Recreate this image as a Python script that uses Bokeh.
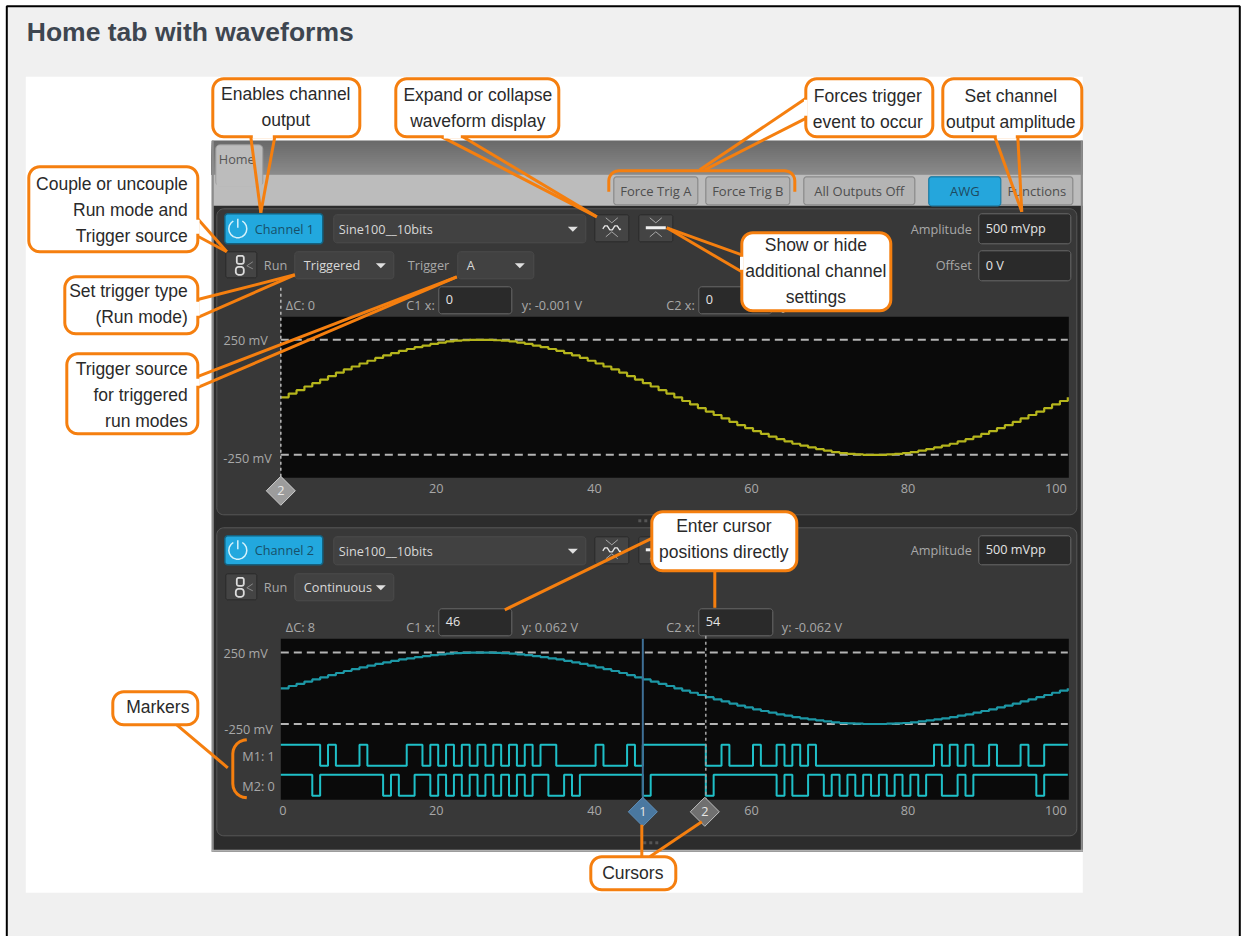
import math
from bokeh.plotting import figure
from bokeh.models import Range1d, LinearAxis, FixedTicker
from bokeh.core.properties import value
from bokeh.embed import file_html
from bokeh.resources import INLINE

# ---- data ----
samples = list(range(101))
wave_mv = [0, 16, 31, 47, 62, 77, 92, 107, 121, 134, 147, 159, 171, 182, 192, 202, 210, 218, 225, 232,
           238, 243, 246, 248, 250, 250, 250, 248, 246, 243, 238, 232, 225, 218, 210, 202, 192, 182, 171, 159,
           147, 134, 121, 107, 92, 77, 62, 47, 31, 16, 0, -16, -31, -47, -62, -77, -92, -107, -121, -134,
           -147, -159, -171, -182, -192, -202, -210, -218, -225, -232, -238, -243, -246, -248, -250, -250, -250, -248, -246, -243,
           -238, -232, -225, -218, -210, -202, -192, -182, -171, -159, -147, -134, -121, -107, -92, -77, -62, -47, -31, -16, 0]
m1_times = [0, 5, 6, 7, 10, 11, 16, 18, 19, 20, 21, 22, 23, 24, 25, 26, 27, 28, 29, 30, 31, 32, 33, 35, 40, 41,
            44, 45, 46, 54, 56, 57, 60, 61, 63, 64, 65, 66, 67, 68, 83, 84, 85, 86, 87, 88, 90, 91, 94, 95, 97, 100]
m1_levels = [1, 0, 1, 0, 1, 0, 1, 0, 1, 0, 1, 0, 1, 0, 1, 0, 1, 0, 1, 0, 1, 0, 1, 0, 1, 0,
             1, 0, 1, 0, 1, 0, 1, 0, 1, 0, 1, 0, 1, 0, 1, 0, 1, 0, 1, 0, 1, 0, 1, 0, 1, 1]
m2_times = [0, 4, 5, 13, 14, 15, 17, 19, 20, 21, 22, 23, 24, 25, 26, 27, 28, 29, 30, 31, 32, 34, 36, 37, 38, 46, 47,
            54, 55, 63, 64, 65, 67, 69, 70, 71, 72, 73, 74, 75, 76, 77, 78, 79, 80, 81, 82, 84, 86, 87, 88, 96, 97, 100]
m2_levels = [1, 0, 1, 0, 1, 0, 1, 0, 1, 0, 1, 0, 1, 0, 1, 0, 1, 0, 1, 0, 1, 0, 1, 0, 1, 0, 1,
             0, 1, 0, 1, 0, 1, 0, 1, 0, 1, 0, 1, 0, 1, 0, 1, 0, 1, 0, 1, 0, 1, 0, 1, 0, 1, 1]
level_lines_mv = [250, -250]
cursor_ch1 = [0, 0]
cursor_ch2 = [46, 54]
ticks_ch1 = [19.75, 39.85, 59.8, 79.7, 98.5]
labels_ch1 = {19.75: "20", 39.85: "40", 59.8: "60", 79.7: "80", 98.5: "100"}
ticks_ch2 = [0.25, 19.75, 39.85, 59.8, 79.7, 98.5]
labels_ch2 = {0.25: "0", 19.75: "20", 39.85: "40", 59.8: "60", 79.7: "80", 98.5: "100"}

# ---- layout (pixels of the page) ----
W, H = 1243, 936
OFF = 0.7
ORANGE = "#f57f0f"
UI = "Open Sans"
UI_SIZE = 12.7
GREY = "#a8a8a8"
CALL = "Liberation Sans"
CALL_SIZE = 17.5

p = figure(width=W, height=H, x_range=Range1d(OFF, W + OFF), y_range=Range1d(H + OFF, OFF),
           x_axis_type=None, y_axis_type=None, toolbar_location=None,
           output_backend="svg", min_border=0, outline_line_color=None,
           background_fill_color="white", border_fill_color="white")
p.grid.visible = False


def px_range(a, b):
    return Range1d(start=(a - H - OFF) / b, end=(a - OFF) / b)


x0_px, x_scale = 281.0, 7.87
p.extra_x_ranges["wave"] = Range1d(start=(OFF - x0_px) / x_scale, end=(W + OFF - x0_px) / x_scale)
p.extra_y_ranges["ch1"] = px_range(397.5, 57.5 / 250)
p.extra_y_ranges["ch2"] = px_range(688.5, 35.7 / 250)
p.extra_y_ranges["m1"] = px_range(766, 21)
p.extra_y_ranges["m2"] = px_range(796, 21)


def box(x0, y0, x1, y1, fill, line=None, lw=1):
    p.quad(left=[x0], right=[x1], top=[y0], bottom=[y1], fill_color=fill,
           line_color=line, line_width=lw)


def rr_pts(x0, y0, x1, y1, r):
    xs, ys = [], []
    for cx, cy, a0 in ((x1 - r, y0 + r, -90), (x1 - r, y1 - r, 0), (x0 + r, y1 - r, 90), (x0 + r, y0 + r, 180)):
        for k in range(9):
            a = math.radians(a0 + k * 90 / 8)
            xs.append(cx + r * math.cos(a))
            ys.append(cy + r * math.sin(a))
    return xs, ys


def rrect(x0, y0, x1, y1, r, fill, line=None, lw=1):
    xs, ys = rr_pts(x0, y0, x1, y1, r)
    p.patch(xs, ys, fill_color=fill, line_color=line, line_width=lw)


def seg(xs, ys, color, lw=1.0, dash="solid", cap="butt", **kw):
    p.line(xs, ys, line_color=color, line_width=lw, line_dash=dash, line_cap=cap, **kw)


def txt(x, y, s, size=UI_SIZE, color="#b8b8b8", align="left", font=UI, style="normal"):
    p.text(x=[x], y=[y], text=[s], text_font=value(font), text_font_size=f"{size}px",
           text_color=color, text_align=align, text_baseline="middle", text_font_style=style)


def tri(cx, cy, color="#e0e0e0"):
    p.patch([cx - 5, cx + 5, cx], [cy - 2, cy - 2, cy + 3], fill_color=color, line_color=None)


def combo(x0, y0, x1, y1, label, ax):
    rrect(x0, y0, x1, y1, 3, "#414141", "#4c4c4c", 1)
    txt(x0 + 9 if label != "Sine100__10bits" else x0 + 5, (y0 + y1) / 2, label, color="#d8d8d8")
    tri(ax, (y0 + y1) / 2)


def field(x0, y0, x1, y1, label):
    rrect(x0, y0, x1, y1, 3, "#2a2a2a", "#6a6a6a", 1)
    txt(x0 + 7, (y0 + y1) / 2 - 1, label, color="#e4e4e4")


def power_button(y0, y1, label):
    rrect(225, y0, 323, y1, 3, "#22a8de", "#14617f", 1.5)
    cy = (y0 + y1) / 2
    a = [math.radians(-60 + k * 20) for k in range(16)]
    seg([238 + 9 * math.cos(t) for t in a], [cy + 9 * math.sin(t) for t in a], "#d6f2fb", 1.5)
    seg([238, 238], [cy - 10, cy - 1], "#d6f2fb", 1.5)
    txt(255, cy, label, color="#17506a")


def chain(y0):
    rrect(226, y0, 257, y0 + 26, 2, "#444444", "#2a2a2a", 1)
    rrect(237, y0 + 4, 244, y0 + 12, 2, None, "#dcdcdc", 1.8)
    rrect(236, y0 + 15, 244, y0 + 23, 3, None, "#dcdcdc", 1.8)
    seg([253, 247, 253], [y0 + 10, y0 + 14, y0 + 17], "#8a8a8a", 1)


def chevrons(cx, y0):
    seg([cx - 6, cx, cx + 6], [y0 + 3, y0 + 8, y0 + 3], "#a8a8a8", 1)
    seg([cx - 6, cx, cx + 6], [y0 + 22, y0 + 17, y0 + 22], "#a8a8a8", 1)


def wave_btn(x0, y0):
    rrect(x0, y0, x0 + 34, y0 + 27, 2, "#444444", "#2a2a2a", 1)
    cx = x0 + 17
    chevrons(cx, y0)
    seg([cx - 9, cx - 7, cx - 4.5, cx - 2, cx + 0.5, cx + 3, cx + 5.5, cx + 8, cx + 9],
        [y0 + 14, y0 + 11, y0 + 11, y0 + 15, y0 + 15, y0 + 11, y0 + 11, y0 + 15, y0 + 14], "#e8e8e8", 1.3)


def bar_btn(x0, y0):
    rrect(x0, y0, x0 + 34, y0 + 27, 2, "#444444", "#2a2a2a", 1)
    cx = x0 + 17
    chevrons(cx, y0)
    box(cx - 10, y0 + 11.5, cx + 10, y0 + 14.5, "#f0f0f0")


def diamond(cx, cy, fill, edge, label):
    p.patch([cx - 14.5, cx, cx + 14.5, cx], [cy, cy - 14.5, cy, cy + 14.5], fill_color=fill,
            line_color=edge, line_width=1)
    txt(cx, cy, label, UI_SIZE, "#e8e8e8", "center")


def callout(x0, y0, x1, y1, lines, cx=None, right=None, pointers=(), gaps=()):
    for (ax, ay, bx, by) in pointers:
        seg([ax, bx], [ay, by], ORANGE, 3)
    rrect(x0, y0, x1, y1, 11, "white", ORANGE, 3)
    for (ax, ay, bx, by) in gaps:
        seg([ax, bx], [ay, by], "white", 3.6)
    for (ly, s) in lines:
        if right is not None:
            txt(right, ly, s, CALL_SIZE, "#2a2a2a", "right", CALL)
        else:
            txt(cx, ly, s, CALL_SIZE, "#2a2a2a", "center", CALL)


# ---- page frame ----
box(7, 6.5, 1240, 938, "#f0f0f0", "black", 2)
txt(27, 32, "Home tab with waveforms", 26.5, "#3e4650", "left", "Liberation Sans", "bold")
box(26, 77, 1083, 893, "white")

# ---- application window ----
box(212, 141, 1083, 852, "#2c2c2c")
for i in range(17):
    g = 0x6a + i * 2
    box(212, 141 + 2 * i, 1083, 175, "#%02x%02x%02x" % (g, g, g))
box(212, 175, 1083, 206, "#bcbcbc")
box(212, 141, 214, 852, "#8c8c8c")
box(1081, 141, 1083, 852, "#8c8c8c")
box(212, 850, 1083, 852, "#b0b0b0")
rrect(216, 145, 263, 186, 4, "#bcbcbc", "#9a9a9a", 1)
box(217, 175, 262, 187, "#bcbcbc")
txt(219, 159, "Home", UI_SIZE, "#555555")

for x0, x1, s in ((614, 698, "Force Trig A"), (706, 790, "Force Trig B"), (804, 915, "All Outputs Off")):
    rrect(x0, 177, x1, 205, 3, "#b4b4b4", "#8a8a8a", 1.2)
    txt((x0 + x1) / 2, 191, s, 13, "#4e4e4e", "center")
rrect(929, 177, 1073, 205, 3, "#b4b4b4", "#8a8a8a", 1.2)
rrect(929, 177, 1001, 206, 3, "#25a6dc", "#1a7ea8", 1.2)
txt(965, 191, "AWG", 13, "#1e4a60", "center")
txt(1037, 191, "Functions", 13, "#4e4e4e", "center")

# channel panels
rrect(217, 209, 1077, 515, 7, "#383838", "#585858", 1)
rrect(217, 528, 1077, 836, 7, "#383838", "#585858", 1)
for x in (640, 646, 652):
    box(x - 1.5, 519.5, x + 1.5, 522.5, "#555555")
    box(x + 5 - 1.5, 841.5, x + 5 + 1.5, 844.5, "#555555")

# channel 1 controls
power_button(214, 244, "Channel 1")
combo(334, 215, 586, 243, "Sine100__10bits", 573)
wave_btn(595, 215)
bar_btn(639, 215)
txt(972, 229, "Amplitude", UI_SIZE, GREY, "right")
field(979, 214, 1071, 244, "500 mVpp")
txt(972, 265, "Offset", UI_SIZE, GREY, "right")
field(979, 251, 1071, 281, "0 V")
chain(252)
txt(264, 265, "Run", UI_SIZE, GREY)
combo(295, 252, 394, 279, "Triggered", 381)
txt(408, 265, "Trigger", UI_SIZE, GREY)
combo(458, 252, 534, 279, "A", 520)
txt(286, 305, "ΔC: 0", UI_SIZE, GREY)
txt(435, 305, "C1 x:", UI_SIZE, GREY, "right")
field(439, 287, 512, 314, "0")
txt(522, 305, "y: -0.001 V", UI_SIZE, GREY)
txt(695, 305, "C2 x:", UI_SIZE, GREY, "right")
field(699, 287, 772, 314, "0")
txt(782, 305, "y: -0.001 V", UI_SIZE, GREY)

# channel 2 controls
power_button(536, 565, "Channel 2")
combo(334, 537, 586, 565, "Sine100__10bits", 573)
wave_btn(595, 537)
bar_btn(639, 537)
txt(972, 550, "Amplitude", UI_SIZE, GREY, "right")
field(979, 536, 1071, 565, "500 mVpp")
chain(574)
txt(264, 587, "Run", UI_SIZE, GREY)
combo(295, 574, 394, 601, "Continuous", 381)
txt(286, 627, "ΔC: 8", UI_SIZE, GREY)
txt(435, 627, "C1 x:", UI_SIZE, GREY, "right")
field(439, 609, 512, 636, "46")
txt(522, 627, "y: 0.062 V", UI_SIZE, GREY)
txt(695, 627, "C2 x:", UI_SIZE, GREY, "right")
field(699, 609, 773, 636, "54")
txt(782, 627, "y: -0.062 V", UI_SIZE, GREY)

# plot areas
box(281, 317, 1069, 478, "#0a0a0a")
box(281, 639, 1069, 800, "#0a0a0a")

# real axes, placed inside the canvas
for ticks, labels, loc in ((ticks_ch1, labels_ch1, 476), (ticks_ch2, labels_ch2, 798)):
    ax = LinearAxis(x_range_name="wave", fixed_location=loc, ticker=FixedTicker(ticks=ticks),
                    major_label_overrides=labels, major_tick_line_color=None, minor_tick_line_color=None,
                    axis_line_color=None, major_label_standoff=2,
                    major_label_text_color=GREY, major_label_text_font_size="12.7px",
                    major_label_text_font=UI)
    p.add_layout(ax, "below")

# 250 mV level lines, labels
x_span = [0, 100]
for v in level_lines_mv:
    for rng in ("ch1", "ch2"):
        p.line(x_span, [v, v], x_range_name="wave", y_range_name=rng, line_color="#b4b4b4",
               line_width=2, line_dash="8 5")
p.text(x=[268, 272], y=level_lines_mv, text=["250 mV", "-250 mV"], y_range_name="ch1",
       y_offset=[0, 3], text_font=value(UI), text_font_size="12.7px", text_color=GREY,
       text_align="right", text_baseline="middle")
p.text(x=[268, 273], y=level_lines_mv, text=["250 mV", "-250 mV"], y_range_name="ch2",
       y_offset=[0, 5], text_font=value(UI), text_font_size="12.7px", text_color=GREY,
       text_align="right", text_baseline="middle")
txt(275, 756, "M1: 1", UI_SIZE, GREY, "right")
txt(275, 786, "M2: 0", UI_SIZE, GREY, "right")

# waveforms
p.step(samples, wave_mv, mode="after", x_range_name="wave", y_range_name="ch1",
       line_color="#b5b51c", line_width=2.2)
p.step(samples, wave_mv, mode="after", x_range_name="wave", y_range_name="ch2",
       line_color="#1d98a6", line_width=2.2)
p.step(m1_times, m1_levels, mode="after", x_range_name="wave", y_range_name="m1",
       line_color="#1fc0c8", line_width=2)
p.step(m2_times, m2_levels, mode="after", x_range_name="wave", y_range_name="m2",
       line_color="#1fc0c8", line_width=2)

# cursors
p.line(cursor_ch1, [288, 478], x_range_name="wave", line_color="#b0b0b0", line_width=1.6, line_dash="3 3")
p.line([cursor_ch2[0]] * 2, [639, 800], x_range_name="wave", line_color="#3f6f96", line_width=2)
p.line([cursor_ch2[1]] * 2, [636, 800], x_range_name="wave", line_color="#a0a0a0", line_width=1.6, line_dash="3 3")
diamond(281, 491, "#9c9c9c", "#cfcfcf", "2")
diamond(643, 812, "#4a78a0", "#5f8fb8", "1")
diamond(705, 812, "#707070", "#bdbdbd", "2")

# ---- callouts ----
callout(213, 79, 360, 137, [(94, "Enables channel"), (120, "output")], cx=286,
        pointers=[(251, 137, 261, 213), (275, 137, 261, 213)], gaps=[(253, 137, 273, 137)])
callout(396, 79, 559, 137, [(95, "Expand or collapse"), (121, "waveform display")], cx=478,
        pointers=[(442, 137, 597, 217), (463, 137, 597, 217)], gaps=[(444, 137, 461, 137)])
callout(806, 79, 933, 137, [(96, "Forces trigger"), (122, "event to occur")], cx=868,
        pointers=[(807, 98, 700, 170), (807, 118, 705, 170)], gaps=[(806, 100, 806, 116)])
callout(943, 79, 1082, 137, [(96, "Set channel"), (122, "output amplitude")], cx=1011,
        pointers=[(995, 137, 1022, 212), (1018, 137, 1022, 212)], gaps=[(997, 137, 1016, 137)])
callout(29, 167, 198, 252, [(184, "Couple or uncouple"), (210, "Run mode and"), (236, "Trigger source")], right=188,
        pointers=[(197, 218, 227, 252), (197, 236, 227, 252)], gaps=[(198, 220, 198, 234)])
callout(65, 277, 198, 334, [(291, "Set trigger type"), (317, "(Run mode)")], right=188,
        pointers=[(197, 300, 295, 275), (197, 318, 295, 275)], gaps=[(198, 302, 198, 316)])
callout(67, 354, 198, 434, [(369, "Trigger source"), (395, "for triggered"), (421, "run modes")], right=188,
        pointers=[(197, 377, 457, 277), (197, 388, 457, 277)], gaps=[(198, 379, 198, 386)])
callout(742, 233, 891, 311, [(245, "Show or hide"), (271, "additional channel"), (297, "settings")], cx=816,
        pointers=[(742, 255, 667, 228), (742, 272, 667, 228)], gaps=[(742, 257, 742, 270)])
callout(652, 512, 797, 571, [(526, "Enter cursor"), (552, "positions directly")], cx=724,
        pointers=[(653, 538, 505, 610), (715, 571, 715, 608)])
callout(113, 692, 198, 725, [(707, "Markers")], cx=158,
        pointers=[(177, 725, 228, 768)])
callout(591, 857, 676, 890, [(873, "Cursors")], cx=633,
        pointers=[(642, 857, 642, 825), (650, 857, 702, 822)])

# orange brackets
a1 = [math.radians(180 + k * 15) for k in range(7)]
a2 = [math.radians(270 + k * 15) for k in range(7)]
bx = [609, 609] + [619 + 10 * math.cos(t) for t in a1] + [785 + 10 * math.cos(t) for t in a2] + [795]
by = [192, 181] + [181 + 10 * math.sin(t) for t in a1] + [181 + 10 * math.sin(t) for t in a2] + [192]
seg(bx, by, ORANGE, 3)
a3 = [math.radians(270 - k * 15) for k in range(7)]
a4 = [math.radians(180 - k * 15) for k in range(7)]
cx_ = [247 + 14 * math.cos(t) for t in a3] + [247 + 14 * math.cos(t) for t in a4]
cy_ = [754 + 14 * math.sin(t) for t in a3] + [784 + 14 * math.sin(t) for t in a4]
seg(cx_, cy_, ORANGE, 3)

open("out.html", "w").write(file_html(p, INLINE))
